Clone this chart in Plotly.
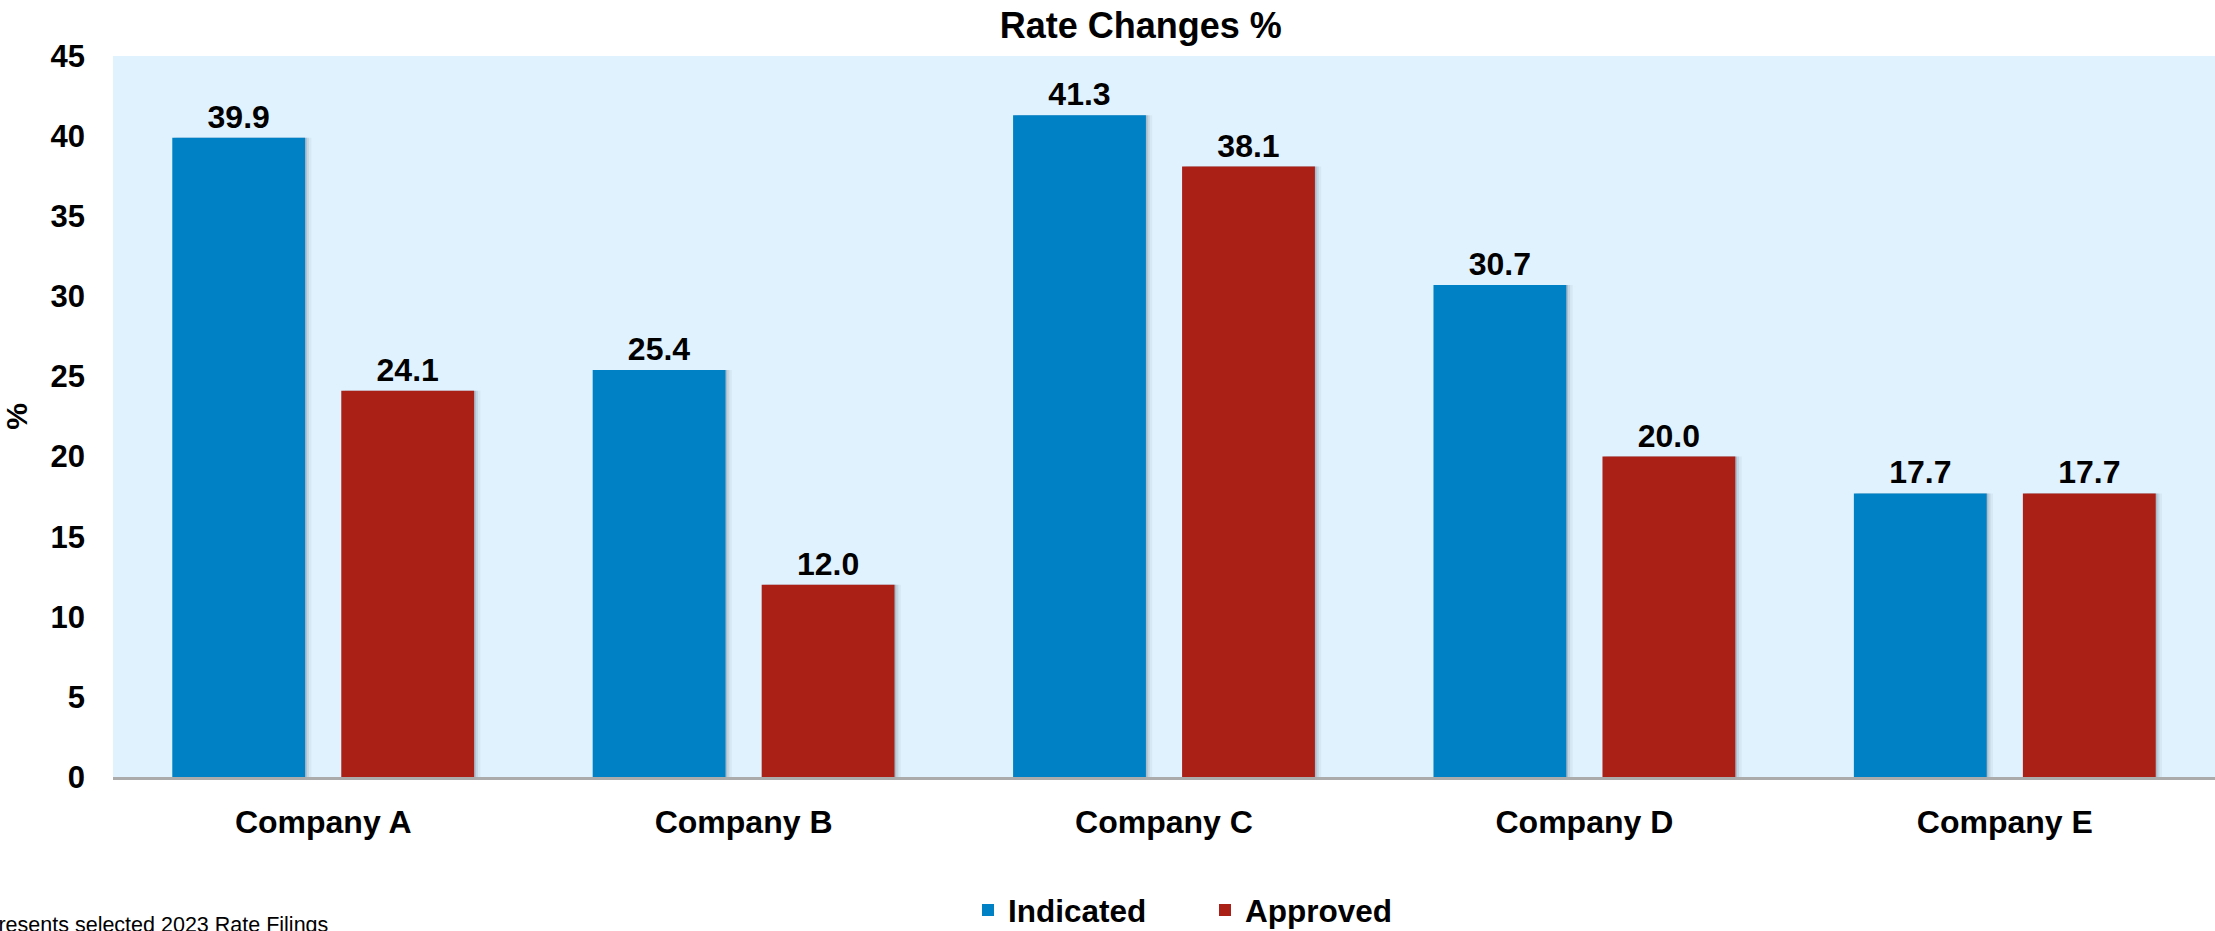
import plotly.graph_objects as go

companies = ["Company A", "Company B", "Company C", "Company D", "Company E"]
indicated = [39.9, 25.4, 41.3, 30.7, 17.7]
approved = [24.1, 12.0, 38.1, 20.0, 17.7]
series_names = ["Indicated", "Approved"]
y_ticks = [0, 5, 10, 15, 20, 25, 30, 35, 40, 45]

BLUE = "#0081C6"
RED = "#AA1F16"
BG = "#E0F2FD"
FONT = "Arial, Liberation Sans, sans-serif"

bar_w = 0.316
half_gap = 0.043
offsets = [-(bar_w + half_gap), half_gap]
colors = [BLUE, RED]
values = [indicated, approved]

fig = go.Figure()

# soft drop shadows (drawn first, behind bars)
shadow_layers = [(0.004, 0.16), (0.009, 0.10), (0.015, 0.05)]
for vals, off in zip(values, offsets):
    for shift, alpha in reversed(shadow_layers):
        fig.add_trace(go.Bar(
            x=companies, y=vals, offset=off + shift, width=bar_w,
            marker=dict(color=f"rgba(40,60,80,{alpha})", line=dict(width=0)),
            showlegend=False, hoverinfo="skip"))

for name, vals, off, col in zip(series_names, values, offsets, colors):
    fig.add_trace(go.Bar(
        x=companies, y=vals, name=name, offset=off, width=bar_w,
        marker=dict(color=col, line=dict(width=0)),
        texttemplate="%{y:.1f}", textposition="outside",
        textfont=dict(family=FONT, size=32, color="black", weight="bold"),
        cliponaxis=False))

fig.update_layout(
    width=2215, height=931,
    barmode="overlay",
    paper_bgcolor="white", plot_bgcolor=BG,
    margin=dict(l=113, r=0, t=56, b=154, autoexpand=False),
    title=dict(text="Rate Changes %", x=0.515, xref="container", xanchor="center",
               y=1 - 25 / 931, yref="container", yanchor="middle",
               font=dict(family=FONT, size=36, color="black", weight="bold")),
    font=dict(family=FONT, color="black"),
    legend=dict(orientation="h", x=(985 - 113 - 17) / 2102, xanchor="left", xref="paper",
                y=-0.1845, yanchor="middle",
                font=dict(family=FONT, size=31.5, color="black", weight="bold"),
                bgcolor="rgba(0,0,0,0)", itemwidth=30, tracegroupgap=0,
                entrywidth=192, entrywidthmode="pixels"),
    showlegend=True,
    annotations=[dict(text="Represents selected 2023 Rate Filings",
                      xref="paper", yref="paper", x=(330 - 113) / 2102, y=-(925 - 777) / 721,
                      xanchor="right", yanchor="middle", showarrow=False,
                      font=dict(family=FONT, size=21.5, color="black"))],
)

fig.update_xaxes(
    range=[-0.5, 4.5], showgrid=False, showline=True, linecolor="#ABABAB", linewidth=3,
    tickfont=dict(family=FONT, size=32, color="black", weight="bold"),
    ticks="", ticklabelstandoff=15, zeroline=False)

fig.update_yaxes(
    range=[0, 45], tickvals=y_ticks, showgrid=False, zeroline=False, showline=False,
    tickfont=dict(family=FONT, size=31, color="black", weight="bold"),
    ticks="", ticklabelstandoff=27,
    title=dict(text="%", standoff=16, font=dict(family=FONT, size=30, color="black", weight="bold")))

fig.write_html("out.html")
